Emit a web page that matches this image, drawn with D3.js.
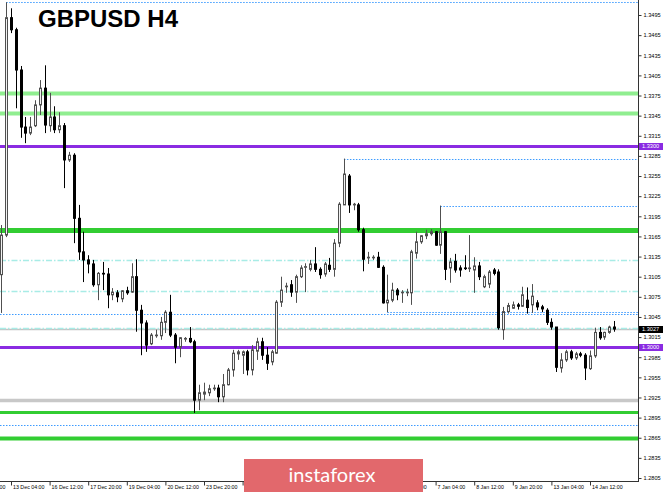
<!DOCTYPE html>
<html><head><meta charset="utf-8">
<script src="https://cdn.jsdelivr.net/npm/d3@7"></script>
<style>body{margin:0;background:#fff}svg{display:block}</style>
</head><body>
<script>
// ---- DATA (GBPUSD H4, candle index 0 = 12 Dec 20:00) ----
const open = [
1.3108,1.3167,1.3491,1.3473,1.3413,1.3328,1.3319,1.3330,1.3361,1.3386,
1.3330,1.3343,1.3324,1.3330,1.3279,1.3286,1.3192,1.3142,1.3130,1.3124,
1.3093,1.3110,1.3109,1.3078,1.3081,1.3072,1.3084,1.3082,1.3105,1.3055,
1.3036,1.3005,1.3017,1.3017,1.3037,1.3052,1.3018,1.3000,1.3012,1.3013,
1.3008,1.2921,1.2930,1.2932,1.2938,1.2939,1.2926,1.2944,1.2966,1.2990,
1.2988,1.2993,1.2966,1.2994,1.3008,1.2988,1.2978,1.2991,1.3067,1.3090,
1.3093,1.3082,1.3105,1.3119,1.3116,1.3124,1.3116,1.3109,1.3122,1.3116,
1.3155,1.3212,1.3255,1.3212,1.3212,1.3175,1.3133,1.3134,1.3134,1.3119,
1.3066,1.3070,1.3085,1.3081,1.3081,1.3081,1.3140,1.3157,1.3166,1.3169,
1.3172,1.3152,1.3172,1.3118,1.3128,1.3118,1.3118,1.3117,1.3115,1.3121,
1.3090,1.3094,1.3115,1.3112,1.3026,1.3053,1.3058,1.3063,1.3061,1.3070,
1.3063,1.3066,1.3060,1.3055,1.3037,1.3030,1.2969,1.2981,1.2993,1.2984,
1.2990,1.2988,1.2968,1.2987,1.3022,1.3015,1.3022,1.3030];
const high = [
1.3182,1.3514,1.3505,1.3476,1.3419,1.3343,1.3343,1.3368,1.3398,1.3420,
1.3379,1.3359,1.3350,1.3334,1.3291,1.3289,1.3212,1.3172,1.3137,1.3130,
1.3112,1.3127,1.3118,1.3088,1.3085,1.3085,1.3090,1.3125,1.3131,1.3063,
1.3040,1.3021,1.3026,1.3045,1.3055,1.3078,1.3021,1.3015,1.3015,1.3030,
1.3011,1.2944,1.2947,1.2944,1.2944,1.2944,1.2960,1.2969,1.2996,1.2996,
1.2995,1.2996,1.3003,1.3014,1.3014,1.3000,1.2996,1.3070,1.3105,1.3096,
1.3100,1.3108,1.3122,1.3125,1.3130,1.3149,1.3119,1.3127,1.3133,1.3161,
1.3216,1.3281,1.3258,1.3215,1.3215,1.3178,1.3142,1.3137,1.3142,1.3122,
1.3108,1.3096,1.3088,1.3085,1.3087,1.3145,1.3172,1.3167,1.3175,1.3176,
1.3173,1.3211,1.3173,1.3133,1.3139,1.3122,1.3137,1.3167,1.3134,1.3127,
1.3108,1.3115,1.3118,1.3116,1.3060,1.3066,1.3068,1.3066,1.3090,1.3089,
1.3094,1.3070,1.3063,1.3058,1.3043,1.3030,1.2991,1.2996,1.2996,1.2993,
1.2993,1.2991,1.2995,1.3029,1.3030,1.3023,1.3032,1.3039];
const low = [
1.3051,1.3164,1.3468,1.3356,1.3312,1.3304,1.3316,1.3328,1.3346,1.3319,
1.3321,1.3319,1.3319,1.3237,1.3276,1.3155,1.3130,1.3097,1.3110,1.3090,
1.3070,1.3085,1.3058,1.3070,1.3067,1.3067,1.3078,1.3081,1.3023,1.2988,
1.2993,1.3003,1.3014,1.3011,1.3021,1.3015,1.2976,1.2985,1.3008,1.3006,
1.2902,1.2906,1.2921,1.2927,1.2935,1.2918,1.2918,1.2943,1.2956,1.2981,
1.2960,1.2958,1.2958,1.2981,1.2981,1.2966,1.2973,1.2990,1.3060,1.3081,
1.3075,1.3066,1.3103,1.3082,1.3113,1.3112,1.3102,1.3105,1.3112,1.3105,
1.3149,1.3212,1.3200,1.3204,1.3172,1.3113,1.3124,1.3130,1.3118,1.3065,
1.3052,1.3067,1.3070,1.3066,1.3076,1.3063,1.3132,1.3154,1.3161,1.3166,
1.3151,1.3139,1.3100,1.3096,1.3111,1.3105,1.3115,1.3112,1.3081,1.3100,
1.3088,1.3088,1.3107,1.3026,1.3011,1.3050,1.3057,1.3056,1.3060,1.3050,
1.3051,1.3055,1.3052,1.3033,1.3026,1.2963,1.2962,1.2978,1.2981,1.2981,
1.2985,1.2951,1.2966,1.2984,1.3011,1.3011,1.3020,1.3023];
const close = [
1.3167,1.3491,1.3473,1.3413,1.3328,1.3319,1.3328,1.3361,1.3386,1.3331,
1.3343,1.3324,1.3330,1.3279,1.3286,1.3192,1.3142,1.3130,1.3124,1.3093,
1.3110,1.3109,1.3078,1.3082,1.3075,1.3084,1.3081,1.3105,1.3055,1.3036,
1.3003,1.3018,1.3018,1.3037,1.3052,1.3018,1.3000,1.3014,1.3013,1.3008,
1.2921,1.2932,1.2933,1.2938,1.2939,1.2926,1.2944,1.2966,1.2991,1.2993,
1.2993,1.2966,1.2996,1.3008,1.2988,1.2976,1.2993,1.3067,1.3085,1.3091,
1.3082,1.3105,1.3118,1.3120,1.3124,1.3116,1.3108,1.3124,1.3116,1.3155,
1.3213,1.3258,1.3212,1.3213,1.3175,1.3131,1.3134,1.3134,1.3119,1.3066,
1.3070,1.3085,1.3078,1.3082,1.3082,1.3142,1.3157,1.3166,1.3169,1.3172,
1.3152,1.3172,1.3116,1.3127,1.3115,1.3115,1.3117,1.3118,1.3121,1.3105,
1.3105,1.3112,1.3110,1.3029,1.3053,1.3062,1.3063,1.3061,1.3078,1.3059,
1.3076,1.3060,1.3057,1.3037,1.3030,1.2970,1.2981,1.2993,1.2984,1.2990,
1.2988,1.2969,1.2987,1.3022,1.3014,1.3022,1.3030,1.3027];

const priceTicks = [1.3495,1.3465,1.3435,1.3405,1.3375,1.3345,1.3315,1.3285,1.3255,1.3225,
  1.3195,1.3165,1.3135,1.3105,1.3075,1.3045,1.3015,1.2985,1.2955,1.2925,1.2895,1.2865,1.2835,1.2805];
// ticks hidden behind the brand box carry no visible label
const tickIndex = [-6,2,10,18,26,34,42,50,58,66,74,82,90,98,106,114,122];
const tickLabels = ["11 Dec 20:00","13 Dec 04:00","16 Dec 12:00","17 Dec 20:00","19 Dec 04:00",
  "20 Dec 12:00","23 Dec 20:00","26 Dec 04:00","","","",
  "3 Jan 20:00","7 Jan 04:00","8 Jan 12:00","9 Jan 20:00","13 Jan 04:00","14 Jan 12:00"];
const levelPrices = [1.3514,1.3379,1.3349,1.3300,1.3281,1.3211,1.3175,1.3130,1.3084,
  1.3050,1.3052,1.3027,1.3029,1.3000,1.2921,1.2903,1.2884,1.2865];
const levelFrom = [1,null,null,null,71,91,null,null,null,null,80,null,null,null,null,null,null,null];
const axisMarks = [1.3300,1.3027,1.3000];
const title = "GBPUSD H4";
const brand = "instaforex";

// ---- DRAWING ----
const W=665, H=492, plotRight=638.5, plotBottom=481.5;
const svg=d3.select("body").append("svg").attr("width",W).attr("height",H);
svg.append("rect").attr("width",W).attr("height",H).attr("fill","#fff");

const x=d3.scaleLinear().domain([0,132]).range([1.35,638.25]);
const y=d3.scaleLinear().domain([1.2805,1.3495]).range([478,15]);

svg.append("clipPath").attr("id","clip").append("rect")
  .attr("x",0).attr("y",0).attr("width",638).attr("height",481);
const plot=svg.append("g").attr("clip-path","url(#clip)");

const DOT={c:"#3d9bff",w:1,d:"1.5,1.5"}, DASHDOT={c:"#a8ece6",w:1.5,d:"6,2,1.5,2"};
const levelStyle=[DOT,{c:"#90ee90",w:4},{c:"#90ee90",w:4},{c:"#8a2be2",w:3},DOT,DOT,
  {c:"#32cd32",w:5},DASHDOT,DASHDOT,DOT,DOT,{c:"#c4c4c4",w:1.5},DASHDOT,{c:"#8a2be2",w:3},
  {c:"#c8c8c8",w:3.5},{c:"#32cd32",w:3},DOT,{c:"#32cd32",w:4}];

plot.selectAll("line.level").data(levelPrices).join("line").attr("class","level")
  .attr("x1",(d,i)=>levelFrom[i]==null?0:x(levelFrom[i]))
  .attr("x2",638)
  .attr("y1",d=>Math.round(y(d))+0.5).attr("y2",d=>Math.round(y(d))+0.5)
  .attr("stroke",(d,i)=>levelStyle[i].c).attr("stroke-width",(d,i)=>levelStyle[i].w)
  .attr("stroke-dasharray",(d,i)=>levelStyle[i].d||null);

const data=open.map((o,i)=>({i,o,h:high[i],l:low[i],c:close[i]}));
const cx=d=>Math.round(x(d.i))+0.5;
const bull=d=>d.c>=d.o;
plot.selectAll("line.wick").data(data).join("line").attr("class","wick")
  .attr("x1",cx).attr("x2",cx).attr("y1",d=>y(d.h)).attr("y2",d=>y(d.l))
  .attr("stroke",d=>bull(d)?"#505050":"#000").attr("stroke-width",1);
plot.selectAll("rect.body").data(data).join("rect").attr("class","body")
  .attr("x",d=>cx(d)-1).attr("width",2)
  .attr("y",d=>y(Math.max(d.o,d.c)))
  .attr("height",d=>Math.max(0.6,Math.abs(y(d.o)-y(d.c))))
  .attr("fill",d=>bull(d)?"#f2f2f2":"#000")
  .attr("stroke",d=>bull(d)?"#505050":"#000").attr("stroke-width",1);

// axes
svg.append("line").attr("x1",plotRight).attr("x2",plotRight).attr("y1",0).attr("y2",482)
  .attr("stroke","#333").attr("stroke-width",1);
svg.append("line").attr("x1",0).attr("x2",plotRight).attr("y1",plotBottom).attr("y2",plotBottom)
  .attr("stroke","#333").attr("stroke-width",1);

const ay=svg.append("g").attr("transform",`translate(${plotRight},0)`)
  .call(d3.axisRight(y).tickValues(priceTicks).tickSize(3).tickPadding(2).tickFormat(d3.format(".4f")));
ay.select(".domain").remove();
ay.selectAll("line").attr("stroke","#333");
ay.selectAll("text").attr("font-family","'Liberation Sans', Arial, sans-serif")
  .attr("font-size",5.6).attr("fill","#000");

const ax=svg.append("g").attr("transform",`translate(0,${plotBottom})`)
  .call(d3.axisBottom(x).tickValues(tickIndex).tickSize(4).tickFormat((d,i)=>tickLabels[i]));
ax.select(".domain").remove();
ax.selectAll("line").attr("stroke","#333");
ax.selectAll("text").attr("text-anchor","start").attr("x",1.5).attr("y",4).attr("dy","0.71em")
  .attr("font-family","'Liberation Sans', Arial, sans-serif").attr("font-size",5.3).attr("fill","#000");

const markColor=["#8a2be2","#000","#8a2be2"];
const mk=svg.append("g").selectAll("g").data(axisMarks).join("g")
  .attr("transform",d=>`translate(639,${Math.round(y(d))+0.5})`);
mk.append("rect").attr("x",0).attr("y",-3.5).attr("width",24).attr("height",7)
  .attr("fill",(d,i)=>markColor[i]);
mk.append("text").attr("x",3).attr("y",0).attr("dy","0.35em").attr("fill","#fff")
  .attr("font-family","'Liberation Sans', Arial, sans-serif").attr("font-size",5.6)
  .text(d=>d.toFixed(4));

// title
svg.append("text").attr("x",38).attr("y",26.5).text(title)
  .attr("font-family","'Liberation Sans', Arial, sans-serif").attr("font-weight","bold")
  .attr("font-size",24).attr("fill","#000");

// brand box
svg.append("rect").attr("x",244).attr("y",459).attr("width",179).attr("height",33).attr("fill","#e2686c");
svg.append("text").attr("x",332).attr("y",482).attr("text-anchor","middle").text(brand)
  .attr("font-family","Lato, 'Open Sans', sans-serif").attr("font-size",20).attr("fill","#fff");
</script>
</body></html>
